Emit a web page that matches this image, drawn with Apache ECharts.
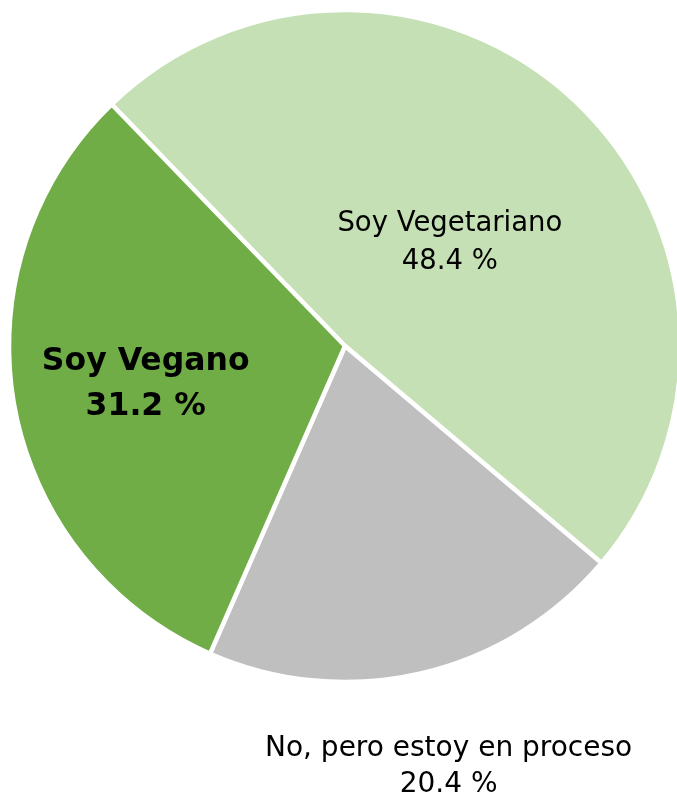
<!DOCTYPE html>
<html>
<head>
<meta charset="utf-8">
<script src="https://cdn.jsdelivr.net/npm/echarts@6/dist/echarts.min.js"></script>
<style>
  html, body { margin: 0; padding: 0; background: #fff; }
  #chart { width: 677px; height: 798px; }
</style>
</head>
<body>
<div id="chart"></div>
<script>
const categories = ['Soy Vegetariano', 'No, pero estoy en proceso', 'Soy Vegano']
const shares = [48.4, 20.4, 31.2]
const colors = ['#C5E0B4', '#BFBFBF', '#70AD47']

// per-slice label tweaks (Vegano is bold and larger, the gray one sits below the pie)
const labelStyles = [
  { fontSize: 27.5, fontWeight: 'normal', lineHeight: 38, offset: [-12, 22] },
  { fontSize: 28, fontWeight: 'normal', lineHeight: 36, offset: [65, 254] },
  { fontSize: 31.5, fontWeight: 'bold', lineHeight: 45, offset: [-31, 8] },
]

const chart = echarts.init(document.getElementById('chart'))

const option = {
  backgroundColor: '#fff',
  animation: false,
  series: [
    {
      type: 'pie',
      center: [345, 346],
      radius: [0, 336],
      startAngle: 134,
      clockwise: true,
      itemStyle: { borderColor: '#fff', borderWidth: 4.5 },
      labelLine: { show: false },
      data: categories.map((name, i) => ({
        name,
        value: shares[i],
        itemStyle: { color: colors[i] },
        label: {
          show: true,
          position: 'inside',
          formatter: '{b}\n{c} %',
          fontFamily: 'DejaVu Sans',
          color: '#000',
          fontSize: labelStyles[i].fontSize,
          fontWeight: labelStyles[i].fontWeight,
          lineHeight: labelStyles[i].lineHeight,
          offset: labelStyles[i].offset,
        },
      })),
    },
  ],
}

chart.setOption(option)
</script>
</body>
</html>
